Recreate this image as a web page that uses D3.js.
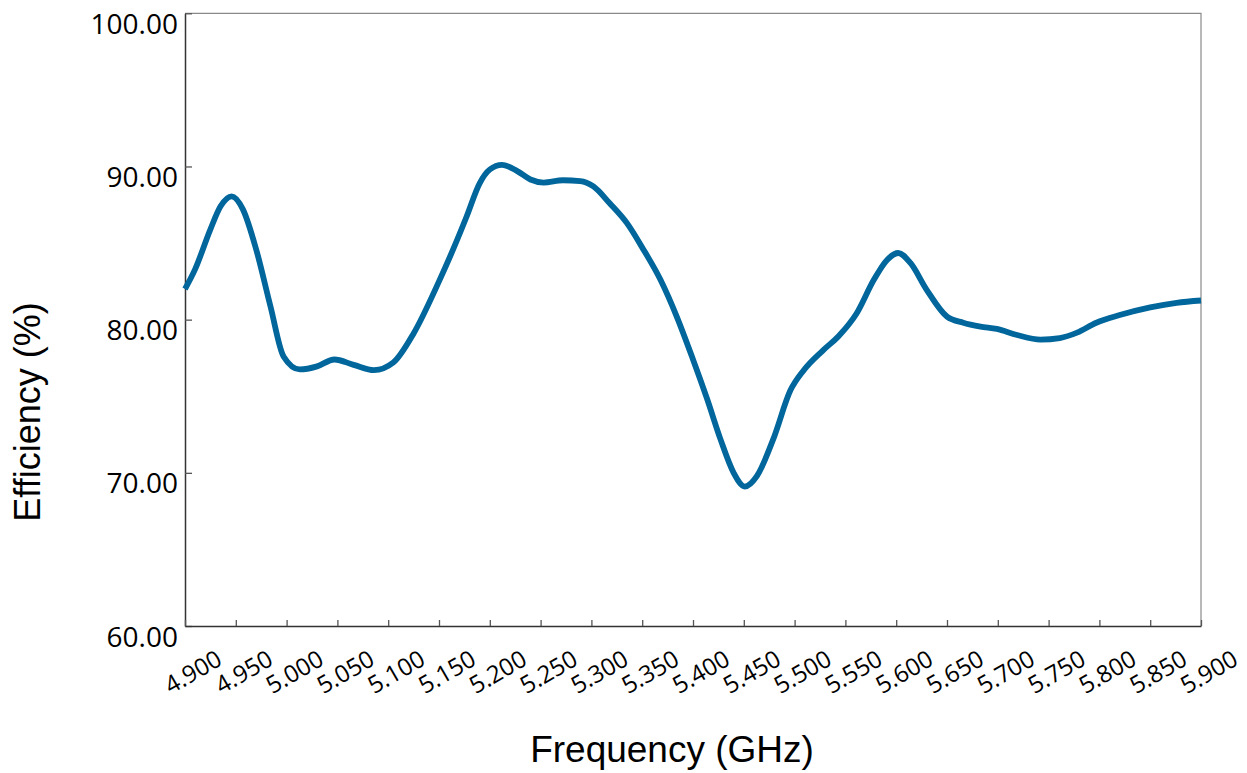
<!DOCTYPE html>
<html>
<head>
<meta charset="utf-8">
<script src="https://cdn.jsdelivr.net/npm/d3@7"></script>
<style>
  html, body { margin: 0; padding: 0; background: #fff; }
  svg { display: block; }
</style>
</head>
<body>
<svg id="chart" width="1247" height="773"></svg>
<script>
const frequency = [4.900, 4.910, 4.925, 4.935, 4.946, 4.957, 4.970, 4.984, 4.997, 5.013,
  5.030, 5.047, 5.066, 5.086, 5.105, 5.125, 5.150, 5.164, 5.177, 5.190,
  5.200, 5.212, 5.227, 5.240, 5.253, 5.272, 5.289, 5.302, 5.318, 5.335,
  5.351, 5.368, 5.384, 5.400, 5.414, 5.427, 5.440, 5.451, 5.463, 5.479,
  5.496, 5.509, 5.528, 5.543, 5.561, 5.578, 5.591, 5.602, 5.614, 5.630,
  5.650, 5.666, 5.683, 5.699, 5.719, 5.742, 5.761, 5.778, 5.797, 5.820,
  5.850, 5.876, 5.900];
const efficiency = [82.0, 83.3, 85.9, 87.4, 88.05, 87.2, 84.6, 80.9, 77.6, 76.75,
  76.95, 77.4, 77.05, 76.7, 77.2, 79.1, 82.5, 84.6, 86.7, 88.9,
  89.8, 90.1, 89.7, 89.15, 88.95, 89.1, 89.05, 88.7, 87.6, 86.3,
  84.6, 82.6, 80.2, 77.4, 74.8, 72.2, 70.0, 69.1, 69.8, 72.2,
  75.4, 76.7, 78.0, 78.9, 80.4, 82.6, 83.9, 84.35, 83.7, 81.95,
  80.2, 79.8, 79.55, 79.4, 79.0, 78.7, 78.8, 79.15, 79.8, 80.3,
  80.8, 81.1, 81.25];
const xTicks = [4.900, 4.950, 5.000, 5.050, 5.100, 5.150, 5.200, 5.250, 5.300, 5.350,
  5.400, 5.450, 5.500, 5.550, 5.600, 5.650, 5.700, 5.750, 5.800, 5.850, 5.900];
const yTicks = [60, 70, 80, 90, 100];
const xTitle = "Frequency (GHz)";
const yTitle = "Efficiency (%)";

const pLeft = 185, pRight = 1201, pTop = 13.3, pBottom = 626;
const svg = d3.select("#chart");

const x = d3.scaleLinear().domain([4.9, 5.9]).range([pLeft, pRight]);
const y = d3.scaleLinear().domain([60, 100]).range([pBottom, pTop]);

// frame top & right
svg.append("path")
  .attr("d", `M${pLeft},${pTop}H${pRight}V${pBottom}`)
  .attr("fill", "none").attr("stroke", "#8a8a8a").attr("stroke-width", 1.2);

// Y axis
const gy = svg.append("g").attr("transform", `translate(${pLeft},0)`)
  .call(d3.axisLeft(y).tickValues(yTicks).tickFormat(d3.format(".2f"))
    .tickSizeInner(-7).tickSizeOuter(0).tickPadding(7));
gy.select(".domain").attr("stroke", "#333").attr("stroke-width", 1.5);
gy.selectAll(".tick line").attr("stroke", "#555").attr("stroke-width", 1.3);
gy.selectAll(".tick text")
  .attr("font-family", "'Open Sans', sans-serif").attr("font-size", 28)
  .attr("fill", "#000").attr("dy", "0.72em");

// X axis
const gx = svg.append("g").attr("transform", `translate(0,${pBottom})`)
  .call(d3.axisBottom(x).tickValues(xTicks).tickFormat(d3.format(".3f"))
    .tickSizeInner(-6).tickSizeOuter(0));
gx.select(".domain").attr("stroke", "#333").attr("stroke-width", 1.5);
gx.selectAll(".tick line").attr("stroke", "#555").attr("stroke-width", 1.3);
gx.selectAll(".tick text")
  .attr("font-family", "'Open Sans', sans-serif").attr("font-size", 24)
  .attr("fill", "#000")
  .attr("y", null).attr("dy", null)
  .attr("text-anchor", "middle").attr("dominant-baseline", "central")
  .attr("transform", "translate(7,45) rotate(-30)");

// line
const pts = frequency.map((f, i) => [f, efficiency[i]]);
svg.append("path")
  .datum(pts)
  .attr("fill", "none")
  .attr("stroke", "#00669b")
  .attr("stroke-width", 5.8)
  .attr("stroke-linejoin", "round")
  .attr("d", d3.line().x(d => x(d[0])).y(d => y(d[1])).curve(d3.curveMonotoneX));

// titles
svg.append("text")
  .attr("x", 672).attr("y", 762)
  .attr("text-anchor", "middle")
  .attr("font-family", "'Liberation Sans', Arial, sans-serif").attr("font-size", 37)
  .attr("fill", "#000").text(xTitle);
svg.append("text")
  .attr("transform", "translate(40,412) rotate(-90)")
  .attr("text-anchor", "middle")
  .attr("font-family", "'Liberation Sans', Arial, sans-serif").attr("font-size", 36)
  .attr("fill", "#000").text(yTitle);
</script>
</body>
</html>
